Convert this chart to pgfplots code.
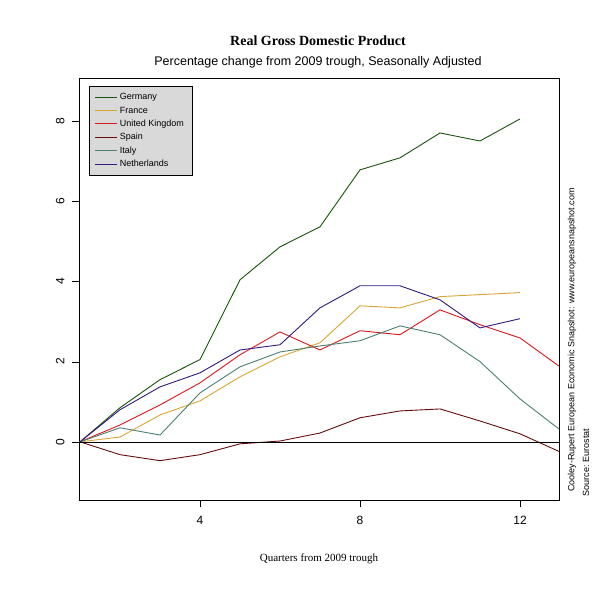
\documentclass[border=0pt]{standalone}
\usepackage{pgfplots}
\pgfplotsset{compat=1.18}
\usepackage{fontspec}
\setmainfont{Liberation Serif}
\setsansfont{Liberation Sans}
\definecolor{cger}{rgb}{0.1,0.33,0.05}
\definecolor{cfra}{rgb}{0.85,0.65,0.2}
\definecolor{cuk}{rgb}{0.85,0.1,0.1}
\definecolor{cspa}{rgb}{0.4,0.05,0.05}
\definecolor{cita}{rgb}{0.3,0.5,0.45}
\definecolor{cned}{rgb}{0.2,0.1,0.5}
\begin{document}
\begin{tikzpicture}[x=1pt,y=1pt]
\path[fill=white] (0,0) rectangle (600,600);
\begin{axis}[at={(79pt,100pt)},anchor=south west,scale only axis,width=480pt,height=422pt,
 xmin=0.975,xmax=12.975,ymin=-1.45,ymax=9.07,
 xtick={4,8,12},ytick={0,2,4,6,8},xtick pos=left,ytick pos=left,
 tick align=outside,major tick length=7pt,tick style={black},
 every tick label/.append style={font=\sffamily\fontsize{12}{12}\selectfont},
 /pgf/number format/assume math mode=true,
 yticklabel style={rotate=90,anchor=south,yshift=4pt},
 xticklabel style={yshift=-6pt},
 axis line style={black,line width=0.6pt},
 xlabel={Quarters from 2009 trough},xlabel style={font=\rmfamily\fontsize{11}{11}\selectfont,yshift=-22pt},
 legend style={at={(0.02,0.98)},anchor=north west,fill=black!15,draw=black,font=\sffamily\fontsize{9}{9}\selectfont,cells={anchor=west},row sep=1.4pt,inner xsep=6pt,inner ysep=5pt},
 legend image post style={xscale=1.3},
 every axis plot/.append style={line width=0.9pt}]
\addplot[cger] coordinates {(1,0)(2,0.85)(3,1.55)(4,2.05)(5,4.04)(6,4.86)(7,5.36)(8,6.78)(9,7.08)(10,7.7)(11,7.5)(12,8.05)};
\addlegendentry{Germany}
\addplot[cfra] coordinates {(1,0)(2,0.12)(3,0.67)(4,1.02)(5,1.62)(6,2.12)(7,2.47)(8,3.39)(9,3.34)(10,3.62)(11,3.67)(12,3.72)};
\addlegendentry{France}
\addplot[cuk] coordinates {(1,0)(2,0.42)(3,0.92)(4,1.47)(5,2.17)(6,2.74)(7,2.29)(8,2.77)(9,2.67)(10,3.29)(11,2.92)(12,2.59)(13,1.87)};
\addlegendentry{United Kingdom}
\addplot[cspa] coordinates {(1,0)(2,-0.32)(3,-0.47)(4,-0.32)(5,-0.05)(6,0.02)(7,0.22)(8,0.6)(9,0.77)(10,0.82)(11,0.52)(12,0.2)(13,-0.25)};
\addlegendentry{Spain}
\addplot[cita] coordinates {(1,0)(2,0.35)(3,0.17)(4,1.22)(5,1.87)(6,2.24)(7,2.39)(8,2.52)(9,2.89)(10,2.67)(11,2.0)(12,1.07)(13,0.3)};
\addlegendentry{Italy}
\addplot[cned] coordinates {(1,0)(2,0.8)(3,1.37)(4,1.72)(5,2.29)(6,2.42)(7,3.34)(8,3.89)(9,3.89)(10,3.54)(11,2.84)(12,3.07)};
\addlegendentry{Netherlands}
\draw[black,line width=0.6pt] (axis cs:0.975,0) -- (axis cs:12.975,0);
\end{axis}
\node[font=\rmfamily\bfseries\fontsize{14}{14}\selectfont] at (318,559) {Real Gross Domestic Product};
\node[font=\sffamily\fontsize{12.5}{12.5}\selectfont] at (318,538) {Percentage change from 2009 trough, Seasonally Adjusted};
\node[rotate=90,font=\sffamily\fontsize{9}{9}\selectfont] at (572,260) {Cooley-Rupert European Economic Snapshot: www.europeansnapshot.com};
\node[rotate=90,font=\sffamily\fontsize{9}{9}\selectfont,anchor=west] at (586,100) {Source: Eurostat};
\end{tikzpicture}
\end{document}
